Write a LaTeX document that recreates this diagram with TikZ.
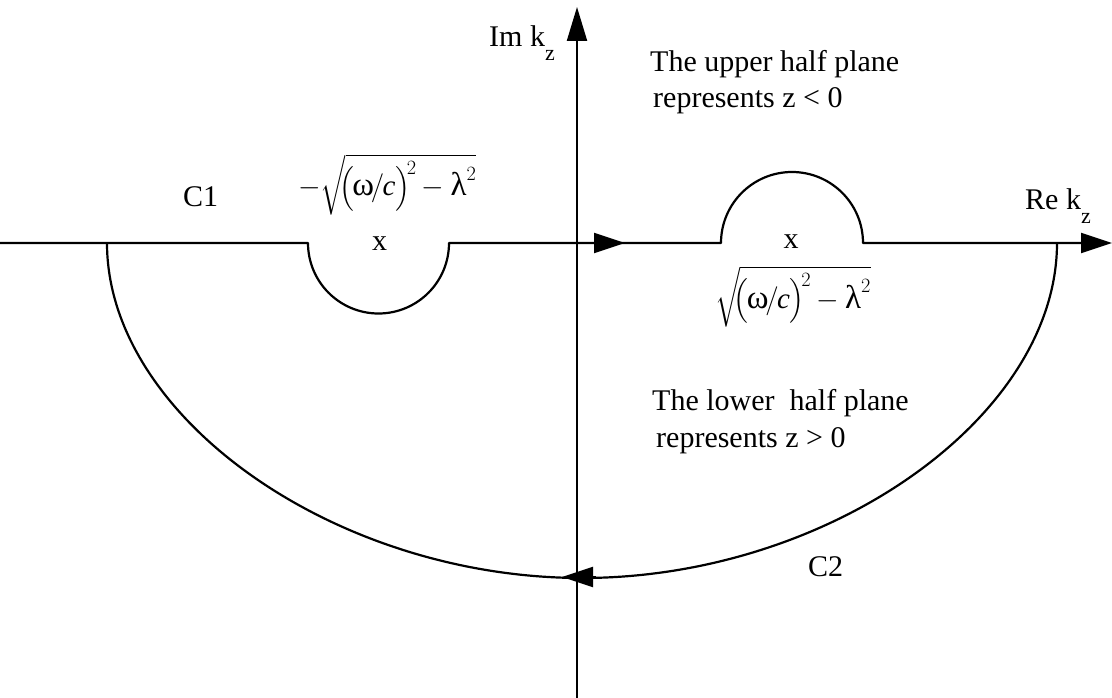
\RequirePackage{fix-cm}
\documentclass[tikz,border=0pt]{standalone}
\usepackage{amsmath}
\usepackage{fontspec}
\setmainfont{Liberation Serif}
\usetikzlibrary{arrows.meta}
\tikzset{
  lbl/.style={inner sep=0pt, anchor=base west, font=\fontsize{30}{35}\selectfont},
  formula/.style={inner sep=0pt, anchor=base west, font=\fontsize{29}{35}\selectfont},
  curve/.style={line width=2.2pt, line join=round},
  tipA/.style={-{Triangle[length=34pt,width=20pt]}},
  tipB/.style={-{Triangle[length=31pt,width=20pt]}},
}
\newcommand{\subz}{\raisebox{-0.45em}{\fontsize{22}{26}\selectfont z}}
\newcommand{\gk}[1]{\text{\fontsize{33}{38}\selectfont #1}}
\newcommand{\rootexpr}{\sqrt{\mkern-4mu\bigl(\mkern-1mu\gk{ω}\mkern-2mu/\mkern-1mu\text{\itshape c}\bigr)^{\mkern-3mu 2}\mkern-1mu-\gk{λ}^{2}}}
\begin{document}
\begin{tikzpicture}[x=1pt,y=-1pt]
\useasboundingbox (0,0) rectangle (1112,698);
% coordinates
\coordinate (xl) at (0,243);
\coordinate (xr) at (1112,243);
\coordinate (yb) at (577,698);
\coordinate (yt) at (577,7);
\coordinate (ls) at (308,243);
\coordinate (le) at (449,243);
\coordinate (rs) at (721,243);
\coordinate (re) at (863,243);
\coordinate (bigR) at (1057,243);
\coordinate (bigB) at (582,578);
\coordinate (bigL) at (107,243);
\coordinate (ma1) at (590,243);
\coordinate (ma2) at (625,243);
\coordinate (ba1) at (596,577);
\coordinate (ba2) at (562,577);
% vertical axis
\draw[curve,tipA] (yb) -- (yt);
% contour along the real axis
\draw[curve,tipB] (xl) -- (ls) arc[start angle=180,end angle=360,radius=70.5pt]
  -- (rs) arc[start angle=180,end angle=0,radius=71pt] -- (xr);
% direction arrow on axis
\draw[curve,tipB] (ma1) -- (ma2);
% large lower arc
\draw[curve] (bigR) .. controls (1057,417) and (829,578) .. (bigB)
  .. controls (335,578) and (107,417) .. (bigL);
\draw[curve,tipB] (ba1) -- (ba2);
% labels
\node[lbl] (im) at (489,47) {Im k\subz};
\node[lbl] (rek) at (1025,210) {Re k\subz};
\node[lbl] (up1) at (650,72) {The upper half plane};
\node[lbl] (up2) at (653,108) {represents z < 0};
\node[lbl] (lo1) at (652,410) {The lower~ half plane};
\node[lbl] (lo2) at (656,447) {represents z > 0};
\node[lbl] (c1) at (183,207) {C1};
\node[lbl] (c2) at (808,576) {C2};
\node[lbl,anchor=base] (xa) at (379.5,250) {x};
\node[lbl,anchor=base] (xb) at (791,248) {x};
\node[formula] (f1) at (298,196) {$-\rootexpr$};
\node[formula] (f2) at (715,308) {$\rootexpr$};
\end{tikzpicture}
\end{document}
